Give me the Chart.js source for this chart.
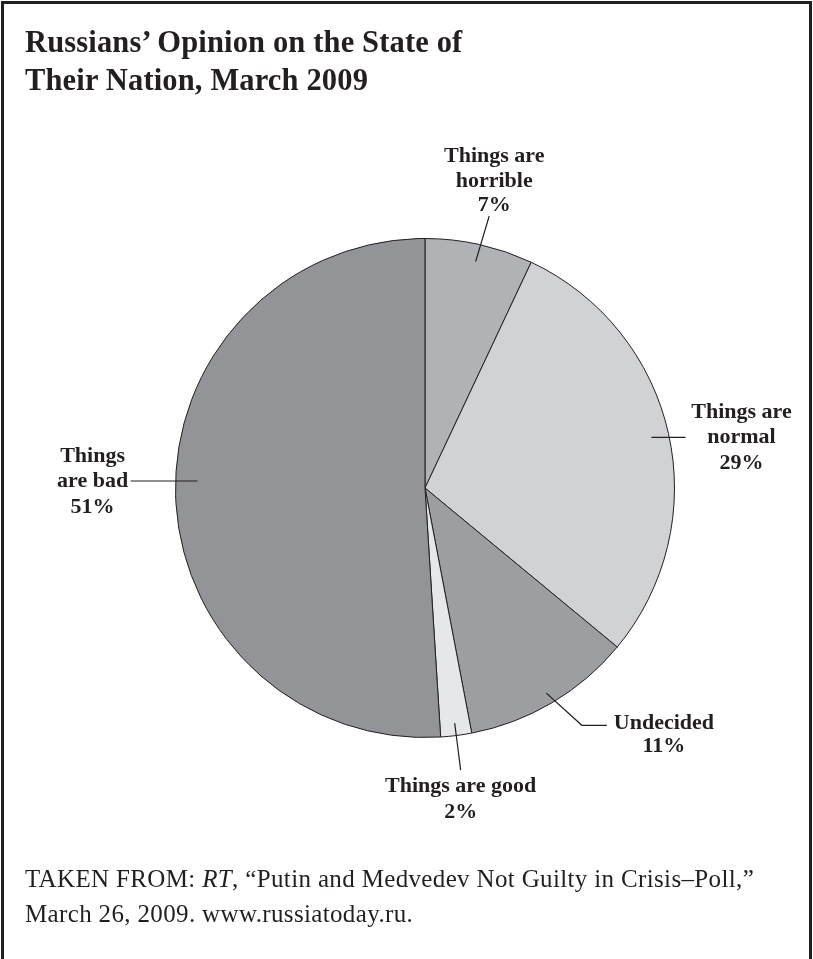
<!DOCTYPE html>
<html>
<head>
<meta charset="utf-8">
<script src="https://cdn.jsdelivr.net/npm/chart.js@4.4.1/dist/chart.umd.min.js"></script>
<style>
  html, body { margin: 0; padding: 0; background: #fff; }
  body { width: 813px; height: 959px; position: relative; overflow: hidden; }
  #frame {
    position: absolute; left: 1px; top: 1px; width: 805px; height: 1000px;
    border: 3px solid #231f20; border-bottom: none;
  }
  #title {
    position: absolute; left: 25px; top: 23px;
    font: bold 30.5px "Liberation Serif", serif; line-height: 38px; color: #231f20;
    letter-spacing: 0.15px;
  }
  #source {
    position: absolute; left: 25px; top: 861px;
    font: 25px "Liberation Serif", serif; line-height: 35px; color: #231f20;
    letter-spacing: 0.35px;
  }
  #chartWrap { position: absolute; left: 0; top: 0; }
</style>
</head>
<body>
<div id="frame"></div>
<div id="chartWrap"><canvas id="pieChart" width="813" height="959"></canvas></div>
<div id="title">Russians’ Opinion on the State of<br>Their Nation, March 2009</div>
<div id="source">TAKEN FROM: <i>RT</i>, “Putin and Medvedev Not Guilty in Crisis–Poll,”<br>March 26, 2009. www.russiatoday.ru.</div>
<script>
// slices go clockwise from 12 o'clock
var categories = ["Things are horrible", "Things are normal", "Undecided", "Things are good", "Things are bad"];
var percents = [7, 29, 11, 2, 51];
// how each label is broken into lines (percent is appended as last line)
var labelLines = [
  ["Things are", "horrible"],
  ["Things are", "normal"],
  ["Undecided"],
  ["Things are good"],
  ["Things", "are bad"]
];
var sliceColors = ["#b1b2b5", "#d1d2d4", "#9d9ea1", "#e6e7e8", "#929497"];

var ink = "#231f20";
var labelFont = 'bold 22px "Liberation Serif", serif';

// leader line + text placement for each label, relative to the arc
function layoutLabel(ctx, arc, i) {
  var cx = arc.x, cy = arc.y, R = arc.outerRadius;
  var mid = (arc.startAngle + arc.endAngle) / 2;
  function at(a, r) { return [cx + Math.cos(a) * r, cy + Math.sin(a) * r]; }
  var lines = labelLines[i].concat([percents[i] + "%"]);
  var lh = 24.5;
  ctx.beginPath();
  if (i === 0) { // horrible: line up and out, text above
    var p0 = at(mid, R * 0.93), p1 = at(mid + 0.012, R * 1.12);
    ctx.moveTo(p0[0], p0[1]); ctx.lineTo(p1[0], p1[1]); ctx.stroke();
    drawLines(ctx, lines, p1[0] + 5, p1[1] - 5 - lh * (lines.length - 1), lh, "center");
  } else if (i === 1) { // normal: horizontal line to the right
    var p0 = at(mid, R * 0.93);
    var x1 = cx + R * 1.044;
    ctx.moveTo(p0[0], p0[1]); ctx.lineTo(x1, p0[1]); ctx.stroke();
    drawLines(ctx, lines, x1 + 56, p0[1] + 6 - (lh + 1), lh + 1, "center");
  } else if (i === 2) { // undecided: elbow line
    var p0 = at(mid, R * 0.955), p1 = at(mid - 0.05, R * 1.14);
    ctx.moveTo(p0[0], p0[1]); ctx.lineTo(p1[0], p1[1]); ctx.lineTo(p1[0] + 25, p1[1]); ctx.stroke();
    ctx.font = labelFont;
    var w = ctx.measureText(lines[0]).width;
    drawLines(ctx, lines, p1[0] + 32 + w / 2, p1[1] + 4, lh - 2, "center");
  } else if (i === 3) { // good: radial line, text below
    var p0 = at(mid, R * 0.95), p1 = at(mid, R * 1.14);
    ctx.moveTo(p0[0], p0[1]); ctx.lineTo(p1[0], p1[1]); ctx.stroke();
    drawLines(ctx, lines, p1[0], p1[1] + 22, lh + 1, "center");
  } else { // bad: horizontal line to the left
    var y = cy - 7;
    var x0 = cx - R * 0.912, x1 = cx - R * 1.18;
    ctx.moveTo(x0, y); ctx.lineTo(x1, y); ctx.stroke();
    drawLines(ctx, lines, x1 - 38, y + 6 - (lh + 1), lh + 1, "center");
  }
}

function drawLines(ctx, lines, x, y, lh, align) {
  ctx.font = labelFont;
  ctx.fillStyle = ink;
  ctx.textAlign = align;
  ctx.textBaseline = "alphabetic";
  for (var k = 0; k < lines.length; k++) {
    ctx.fillText(lines[k], x, y + k * lh);
  }
}

var calloutPlugin = {
  id: "callouts",
  afterDatasetsDraw: function(chart) {
    var ctx = chart.ctx;
    var arcs = chart.getDatasetMeta(0).data;
    ctx.save();
    ctx.strokeStyle = ink;
    ctx.lineWidth = 1.2;
    arcs.forEach(function(arc, i) { layoutLabel(ctx, arc, i); });
    ctx.restore();
  }
};

var ctx = document.getElementById("pieChart").getContext("2d");
new Chart(ctx, {
  type: "pie",
  data: {
    labels: categories,
    datasets: [{
      data: percents,
      backgroundColor: sliceColors,
      borderColor: ink,
      borderWidth: 1,
      hoverOffset: 0
    }]
  },
  options: {
    responsive: false,
    animation: false,
    events: [],
    devicePixelRatio: 1,
    layout: { padding: { left: 175, top: 238, right: 138, bottom: 221 } },
    plugins: {
      legend: { display: false },
      tooltip: { enabled: false },
      title: { display: false }
    }
  },
  plugins: [calloutPlugin]
});
</script>
</body>
</html>
